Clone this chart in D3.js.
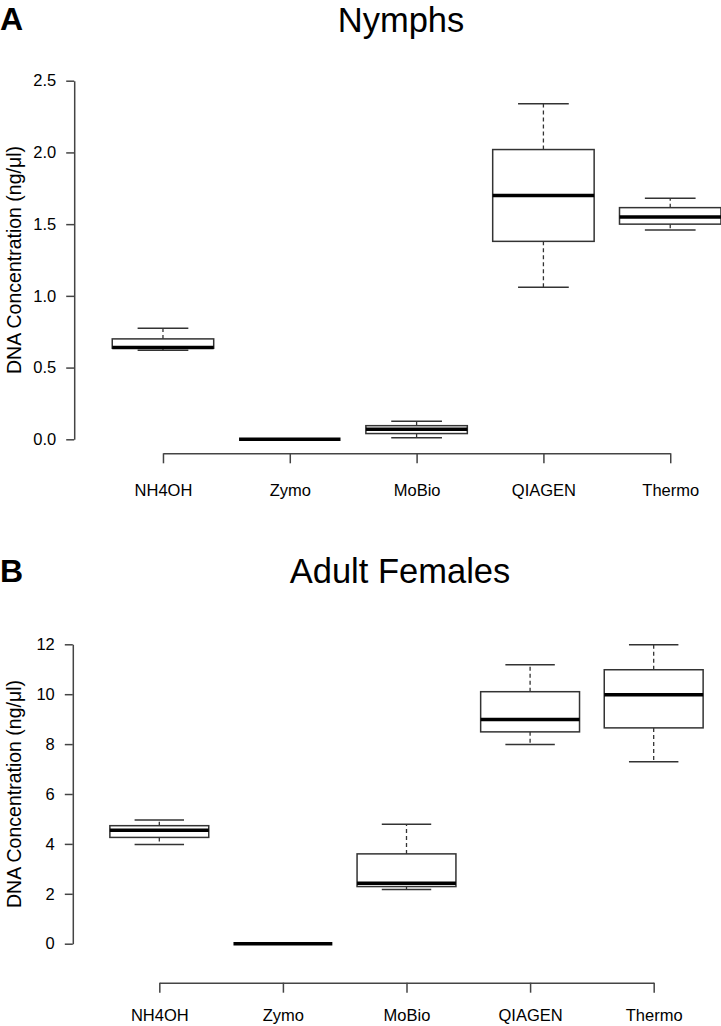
<!DOCTYPE html>
<html>
<head>
<meta charset="utf-8">
<script src="https://cdn.jsdelivr.net/npm/d3@7"></script>
<style>
  body { margin: 0; background: #fff; }
  svg { display: block; }
  text { font-family: "Liberation Sans", Arial, Helvetica, sans-serif; fill: #000; }
</style>
</head>
<body>
<svg id="chart" width="721" height="1026"></svg>
<script>
// ---------- data ----------
const categories = ["NH4OH", "Zymo", "MoBio", "QIAGEN", "Thermo"];

const nymphsMin    = [0.62, 0, 0.01, 1.06, 1.46];
const nymphsQ1     = [0.635, 0, 0.04, 1.38, 1.50];
const nymphsMedian = [0.64, 0, 0.07, 1.70, 1.55];
const nymphsQ3     = [0.70, 0, 0.095, 2.02, 1.615];
const nymphsMax    = [0.775, 0, 0.125, 2.34, 1.68];

const adultsMin    = [3.98, 0, 2.17, 7.98, 7.29];
const adultsQ1     = [4.26, 0, 2.29, 8.49, 8.65];
const adultsMedian = [4.55, 0, 2.42, 8.99, 9.98];
const adultsQ3     = [4.73, 0, 3.60, 10.10, 10.98];
const adultsMax    = [4.96, 0, 4.79, 11.18, 11.98];

const nymphsTicks = [0, 0.5, 1.0, 1.5, 2.0, 2.5];
const adultsTicks = [0, 2, 4, 6, 8, 10, 12];

const yLabel = "DNA Concentration (ng/\u03BCl)";

// ---------- drawing ----------
const svg = d3.select("#chart");
const lineColor = "#333";

function panel(opt) {
  const g = svg.append("g");
  // x: R-like boxplot coordinates 1..n, xlim 0.3..5.7
  const xLin = d3.scaleLinear().domain([0.3, 5.7]).range([opt.left, opt.right]);
  const x = d3.scalePoint().domain(categories).range([xLin(1), xLin(categories.length)]);
  const y = d3.scaleLinear().domain([0, d3.max(opt.ticks)]).range([opt.bottom, opt.top]);
  const half = 0.4 * x.step();
  const staple = 0.5 * half;

  const data = categories.map((c, i) => ({
    c, min: opt.min[i], q1: opt.q1[i], med: opt.med[i], q3: opt.q3[i], max: opt.max[i]
  }));

  const b = g.selectAll("g.box").data(data).join("g").attr("class", "box");
  // whiskers
  b.append("line").attr("x1", d => x(d.c)).attr("x2", d => x(d.c))
    .attr("y1", d => y(d.q3)).attr("y2", d => y(d.max))
    .attr("stroke", lineColor).attr("stroke-width", 1.3).attr("stroke-dasharray", "4,3");
  b.append("line").attr("x1", d => x(d.c)).attr("x2", d => x(d.c))
    .attr("y1", d => y(d.q1)).attr("y2", d => y(d.min))
    .attr("stroke", lineColor).attr("stroke-width", 1.3).attr("stroke-dasharray", "4,3");
  // staples
  b.append("line").attr("x1", d => x(d.c) - staple).attr("x2", d => x(d.c) + staple)
    .attr("y1", d => y(d.max)).attr("y2", d => y(d.max))
    .attr("stroke", lineColor).attr("stroke-width", 1.5);
  b.append("line").attr("x1", d => x(d.c) - staple).attr("x2", d => x(d.c) + staple)
    .attr("y1", d => y(d.min)).attr("y2", d => y(d.min))
    .attr("stroke", lineColor).attr("stroke-width", 1.5);
  // box
  b.append("rect").attr("x", d => x(d.c) - half).attr("width", 2 * half)
    .attr("y", d => y(d.q3)).attr("height", d => Math.max(0, y(d.q1) - y(d.q3)))
    .attr("fill", "#fff").attr("stroke", lineColor).attr("stroke-width", 1.5);
  // median
  b.append("line").attr("x1", d => x(d.c) - half).attr("x2", d => x(d.c) + half)
    .attr("y1", d => y(d.med)).attr("y2", d => y(d.med))
    .attr("stroke", "#000").attr("stroke-width", 3.5);

  // y axis
  const ya = g.append("g").attr("transform", `translate(${opt.left},0)`)
    .call(d3.axisLeft(y).tickValues(opt.ticks).tickFormat(opt.fmt)
      .tickSize(8).tickSizeOuter(0).tickPadding(10));
  ya.selectAll("path, line").attr("stroke", "#444").attr("stroke-width", 1.5);
  ya.selectAll("text").style("font-size", "16.5px").attr("fill", "#000");

  // x axis
  const xa = g.append("g").attr("transform", `translate(0,${opt.axisY})`)
    .call(d3.axisBottom(x).tickSize(10).tickSizeOuter(0).tickPadding(opt.xPad));
  xa.selectAll("path, line").attr("stroke", "#444").attr("stroke-width", 1.5);
  xa.selectAll("text").style("font-size", "16.5px").attr("fill", "#000");

  // y label
  g.append("text")
    .attr("transform", `translate(21,${(opt.top + opt.bottom) / 2}) rotate(-90)`)
    .attr("text-anchor", "middle")
    .style("font-size", "19.5px")
    .text(yLabel);

  // title and panel letter
  g.append("text").attr("x", opt.titleX).attr("y", opt.titleY)
    .attr("text-anchor", "middle").style("font-size", "34.5px").text(opt.title);
  g.append("text").attr("x", 0).attr("y", opt.letterY)
    .style("font-size", "32px").style("font-weight", "bold").text(opt.letter);
}

panel({
  left: 74.2, right: 759, top: 80.7, bottom: 439.3, axisY: 453.3, xPad: 21,
  ticks: nymphsTicks, fmt: d3.format(".1f"),
  min: nymphsMin, q1: nymphsQ1, med: nymphsMedian, q3: nymphsQ3, max: nymphsMax,
  title: "Nymphs", letter: "A", titleX: 401, titleY: 31.5, letterY: 29.5
});

panel({
  left: 72.8, right: 740.2, top: 644.3, bottom: 943.7, axisY: 982.7, xPad: 17,
  ticks: adultsTicks, fmt: d3.format("d"),
  min: adultsMin, q1: adultsQ1, med: adultsMedian, q3: adultsQ3, max: adultsMax,
  title: "Adult Females", letter: "B", titleX: 400, titleY: 583, letterY: 582
});
</script>
</body>
</html>
